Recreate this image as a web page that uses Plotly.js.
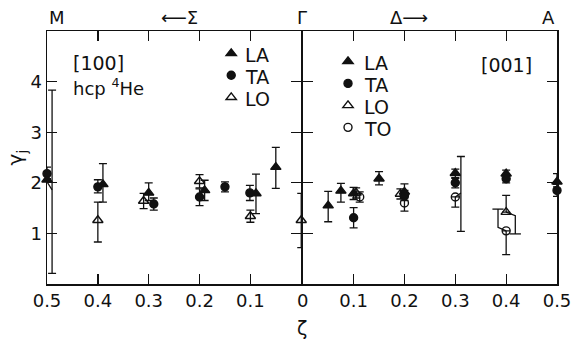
<!DOCTYPE html>
<html>
<head>
<meta charset="utf-8">
<script src="https://cdn.plot.ly/plotly-3.0.1.min.js"></script>
<style>html,body{margin:0;padding:0;background:#fff;}#chart{width:571px;height:341px;}</style>
</head>
<body>
<div id="chart"></div>
<script>
// ---------- Left panel: [100] direction (Sigma, Gamma -> M) ----------
const laLeftZeta   = [0.5, 0.39, 0.3, 0.19, 0.089, 0.05];
const laLeftGamma  = [2.06, 1.97, 1.80, 1.85, 1.79, 2.31];
const laLeftErrUp  = [0, 0.41, 0.20, 0.20, 0.38, 0.39];
const laLeftErrDn  = [0, 0.35, 0.15, 0.20, 0.40, 0.42];

const taLeftZeta   = [0.5, 0.4, 0.29, 0.2, 0.15, 0.101];
const taLeftGamma  = [2.18, 1.92, 1.58, 1.72, 1.92, 1.80];
const taLeftErrUp  = [0.13, 0.14, 0.12, 0.16, 0.10, 0.15];
const taLeftErrDn  = [0.10, 0.12, 0.12, 0.17, 0.10, 0.15];

const loLeftZeta   = [0.4, 0.31, 0.2, 0.1, 0];
const loLeftGamma  = [1.26, 1.64, 2.03, 1.34, 1.26];
const loLeftErrUp  = [0.36, 0.15, 0.13, 0.12, 0.53];
const loLeftErrDn  = [0.43, 0.15, 0.13, 0.12, 0.54];

// displaced error bar at M
const offLeftZeta  = [0.49];
const offLeftGamma = [2.02];
const offLeftErr   = [1.81];
const connLeftZeta  = [0.5, 0.49];
const connLeftGamma = [2.02, 1.86];

// ---------- Right panel: [001] direction (Delta, Gamma -> A) ----------
const laRightZeta  = [0.05, 0.075, 0.1, 0.15, 0.2, 0.3, 0.4, 0.5];
const laRightGamma = [1.55, 1.84, 1.79, 2.08, 1.82, 2.19, 2.18, 2.02];
const laRightErrUp = [0.28, 0.15, 0.12, 0.14, 0.16, 0.08, 0.07, 0.16];
const laRightErrDn = [0.32, 0.22, 0.12, 0.12, 0.10, 0.10, 0.10, 0.10];

const taRightZeta  = [0.1, 0.2, 0.3, 0.4, 0.5];
const taRightGamma = [1.31, 1.75, 2.00, 2.08, 1.85];
const taRightErrUp = [0.20, 0.10, 0.10, 0.08, 0.12];
const taRightErrDn = [0.20, 0.10, 0.10, 0.08, 0.12];

const loRightZeta  = [0.105, 0.192, 0.4];
const loRightGamma = [1.80, 1.78, 1.42];
const loRightErrUp = [0.10, 0.10, 0.33];
const loRightErrDn = [0.10, 0.10, 0];

const toRightZeta  = [0.112, 0.2, 0.3, 0.4];
const toRightGamma = [1.72, 1.60, 1.72, 1.05];
const toRightErrUp = [0.10, 0.10, 0, 0];
const toRightErrDn = [0.10, 0.16, 0.20, 0.47];

// displaced error bars and their connecting strokes
const offRightZeta  = [0.311];
const offRightGamma = [1.78];
const offRightErr   = [0.74];
const connRightZeta  = [0.3, 0.311, null, 0.384, 0.384, 0.4, null, 0.4, 0.418, 0.418];
const connRightGamma = [1.72, 1.80, null, 1.48, 1.12, 1.05, null, 1.42, 1.35, 0.99];
const capRightZeta   = [0.384, 0.418];
const capRightGamma  = [1.48, 0.99];

const leftTicks  = [0.5, 0.4, 0.3, 0.2, 0.1];
const leftLabels = ['0.5', '0.4', '0.3', '0.2', '0.1'];
const rightTicks  = [0, 0.1, 0.2, 0.3, 0.4, 0.5];
const rightLabels = ['0', '0.1', '0.2', '0.3', '0.4', '0.5'];
const yTicks = [1, 2, 3, 4];

const leftLegendNames  = ['LA', 'TA', 'LO'];
const rightLegendNames = ['LA', 'TA', 'LO', 'TO'];

const FONT = 'DejaVu Sans, Liberation Sans, sans-serif';
const INK = '#111';
const ROW = 22; // legend row pitch in px
const PLOT_TOP = 31, PLOT_H = 253, PLOT_L = 47, PLOT_W = 510;

function errBar(up, dn) {
  return {type: 'data', symmetric: false, array: up, arrayminus: dn,
          color: INK, thickness: 1.3, width: 4};
}
function pts(name, x, y, up, dn, symbol, size, xa, ya, legend) {
  return {type: 'scatter', mode: 'markers', name: '\u00A0', x: x, y: y,
          xaxis: xa, yaxis: ya, legend: legend, cliponaxis: false,
          marker: {symbol: symbol, size: size, color: INK, line: {color: INK, width: 1.4}},
          error_y: errBar(up, dn)};
}

const traces = [
  pts('LA', laLeftZeta, laLeftGamma, laLeftErrUp, laLeftErrDn, 'triangle-up', 9, 'x', 'y', 'legend'),
  pts('TA', taLeftZeta, taLeftGamma, taLeftErrUp, taLeftErrDn, 'circle', 8, 'x', 'y', 'legend'),
  pts('LO', loLeftZeta, loLeftGamma, loLeftErrUp, loLeftErrDn, 'triangle-up-open', 9, 'x', 'y', 'legend'),
  {type: 'scatter', mode: 'markers', x: offLeftZeta, y: offLeftGamma, xaxis: 'x', yaxis: 'y',
   showlegend: false, cliponaxis: false, marker: {size: 1, opacity: 0},
   error_y: errBar(offLeftErr, offLeftErr)},
  {type: 'scatter', mode: 'lines', x: connLeftZeta, y: connLeftGamma, xaxis: 'x', yaxis: 'y',
   showlegend: false, cliponaxis: false, line: {color: INK, width: 1.3}},

  pts('LA', laRightZeta, laRightGamma, laRightErrUp, laRightErrDn, 'triangle-up', 9, 'x2', 'y2', 'legend2'),
  pts('TA', taRightZeta, taRightGamma, taRightErrUp, taRightErrDn, 'circle', 8, 'x2', 'y2', 'legend2'),
  pts('LO', loRightZeta, loRightGamma, loRightErrUp, loRightErrDn, 'triangle-up-open', 9, 'x2', 'y2', 'legend2'),
  pts('TO', toRightZeta, toRightGamma, toRightErrUp, toRightErrDn, 'circle-open', 8, 'x2', 'y2', 'legend2'),
  {type: 'scatter', mode: 'markers', x: offRightZeta, y: offRightGamma, xaxis: 'x2', yaxis: 'y2',
   showlegend: false, cliponaxis: false, marker: {size: 1, opacity: 0},
   error_y: errBar(offRightErr, offRightErr)},
  {type: 'scatter', mode: 'lines', x: connRightZeta, y: connRightGamma, xaxis: 'x2', yaxis: 'y2',
   showlegend: false, cliponaxis: false, connectgaps: false, line: {color: INK, width: 1.3}},
  {type: 'scatter', mode: 'markers', x: capRightZeta, y: capRightGamma, xaxis: 'x2', yaxis: 'y2',
   showlegend: false, cliponaxis: false,
   marker: {symbol: 'line-ew', size: 8, line: {color: INK, width: 1.3}}}
];

const axisBase = {
  showline: true, linecolor: INK, linewidth: 1.5, mirror: 'ticks',
  ticks: 'inside', ticklen: 10, tickwidth: 1.3, tickcolor: INK,
  showgrid: false, zeroline: false, fixedrange: true, ticklabeloverflow: 'allow',
  tickfont: {family: FONT, size: 18, color: INK}
};

// legend label text drawn as annotations next to the legend symbols
function legendText(names, leftPx, firstRowPx) {
  return names.map((n, i) => ({
    text: n, xref: 'paper', yref: 'paper',
    x: (leftPx - PLOT_L) / PLOT_W, y: 1 - (firstRowPx + i * ROW - PLOT_TOP) / PLOT_H,
    xanchor: 'left', yanchor: 'middle', showarrow: false, font: {size: 19}
  }));
}

const layout = {
  width: 571, height: 341,
  margin: {l: PLOT_L, r: 14, t: PLOT_TOP, b: 57},
  paper_bgcolor: '#fff', plot_bgcolor: '#fff',
  font: {family: FONT, color: INK},
  xaxis: Object.assign({}, axisBase, {domain: [0, 0.4985], range: [0.5, 0], anchor: 'y',
          tickmode: 'array', tickvals: leftTicks, ticktext: leftLabels}),
  xaxis2: Object.assign({}, axisBase, {domain: [0.5015, 1], range: [0, 0.5], anchor: 'y2',
          tickmode: 'array', tickvals: rightTicks, ticktext: rightLabels}),
  yaxis: Object.assign({}, axisBase, {range: [0, 5], anchor: 'x', tickmode: 'array', tickvals: yTicks}),
  yaxis2: Object.assign({}, axisBase, {range: [0, 5], anchor: 'x2', tickmode: 'array', tickvals: yTicks,
          showticklabels: false}),
  legend: {x: 0.322, y: 0.975, xanchor: 'left', yanchor: 'top', bgcolor: 'rgba(0,0,0,0)',
           font: {family: FONT, size: 14.6, color: INK}, itemwidth: 30, tracegroupgap: 0},
  legend2: {x: 0.551, y: 0.943, xanchor: 'left', yanchor: 'top', bgcolor: 'rgba(0,0,0,0)',
           font: {family: FONT, size: 14.6, color: INK}, itemwidth: 30, tracegroupgap: 0},
  annotations: [
    {text: 'M', xref: 'paper', yref: 'paper', x: 0, y: 1, yanchor: 'bottom', yshift: 1, showarrow: false, font: {size: 18}},
    {text: '\u27F5\u03A3', xref: 'paper', yref: 'paper', x: 0.22, y: 1, yanchor: 'bottom', yshift: 1, showarrow: false, font: {size: 18}},
    {text: '\u0393', xref: 'paper', yref: 'paper', x: 0.5, y: 1, yanchor: 'bottom', yshift: 1, showarrow: false, font: {size: 18}},
    {text: '\u0394\u27F6', xref: 'paper', yref: 'paper', x: 0.75, y: 1, yanchor: 'bottom', yshift: 1, showarrow: false, font: {size: 18}},
    {text: 'A', xref: 'paper', yref: 'paper', x: 1, y: 1, yanchor: 'bottom', yshift: 1, showarrow: false, font: {size: 18}},
    {text: '[100]', xref: 'paper', yref: 'paper', x: 0.048, y: 0.875, xanchor: 'left', yanchor: 'middle', showarrow: false, font: {size: 19}},
    {text: 'hcp <sup>4</sup>He', xref: 'paper', yref: 'paper', x: 0.048, y: 0.78, xanchor: 'left', yanchor: 'middle', showarrow: false, font: {size: 18}},
    {text: '[001]', xref: 'paper', yref: 'paper', x: 0.9, y: 0.865, xanchor: 'center', yanchor: 'middle', showarrow: false, font: {size: 19}},
    {text: '\u03B6', xref: 'paper', yref: 'paper', x: 0.5, y: -0.172, xanchor: 'center', yanchor: 'middle', showarrow: false, font: {size: 19}},
    {text: '\u03B3<sub>j</sub>', xref: 'paper', yref: 'paper', x: -0.061, y: 0.5, xanchor: 'center', yanchor: 'middle', textangle: -90, showarrow: false, font: {size: 20}}
  ].concat(legendText(leftLegendNames, 243, 55), legendText(rightLegendNames, 362, 63))
};

Plotly.newPlot('chart', traces, layout, {displayModeBar: false, staticPlot: true});
</script>
</body>
</html>
